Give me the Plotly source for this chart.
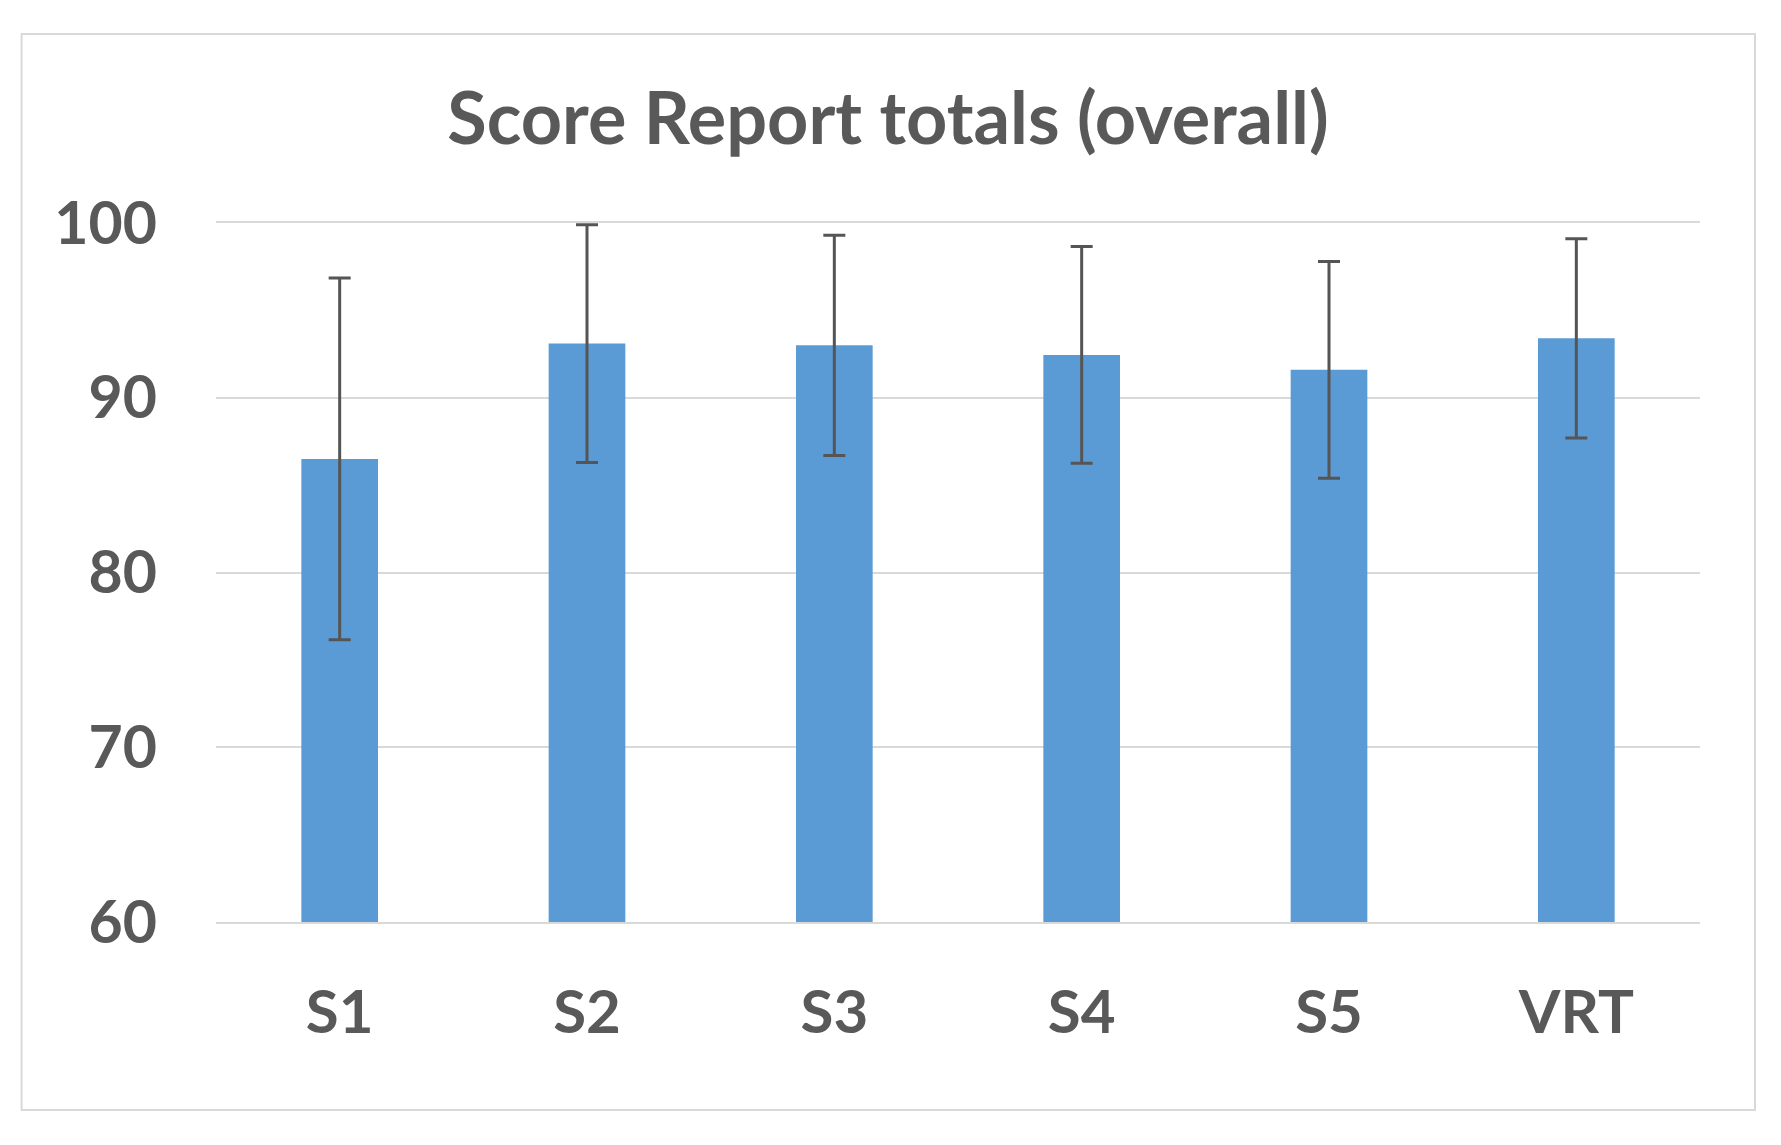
import plotly.graph_objects as go

categories = ["S1", "S2", "S3", "S4", "S5", "VRT"]
means = [86.5, 93.1, 93.0, 92.45, 91.6, 93.4]
errors = [10.35, 6.8, 6.3, 6.2, 6.2, 5.7]
y_ticks = [60, 70, 80, 90, 100]

W, H = 1781, 1145
OFF = 8  # default page body margin
# desired on-screen plot area
PX0, PX1, PY0, PY1 = 216, 1700, 223, 922
L = PX0 - OFF
T = PY0 - OFF
R = W + OFF - PX1
B = H + OFF - PY1
pw = PX1 - PX0
ph = PY1 - PY0

def px_x(p):
    return (p - PX0) / pw

def px_y(p):
    return 1 - (p - PY0) / ph

TEXT = "#595959"
FONT = "Lato"
GRID = "#d9d9d9"

fig = go.Figure()
fig.add_trace(go.Bar(
    x=categories, y=means,
    marker=dict(color="#5b9bd5", line=dict(width=0)),
    width=0.31,
    error_y=dict(type="data", array=errors, visible=True,
                 color="#555555", thickness=3, width=11),
))

fig.update_layout(
    width=W, height=H,
    margin=dict(l=L, r=R, t=T, b=B),
    paper_bgcolor="white", plot_bgcolor="white",
    showlegend=False,
    title=dict(text="<b>Score Report totals (overall)</b>",
               xref="paper", x=px_x(888), xanchor="center",
               yref="container", y=1 - (119 - OFF) / H, yanchor="middle",
               font=dict(family=FONT, size=72, color=TEXT)),
    xaxis=dict(showgrid=False, zeroline=False, showline=True, mirror=True,
               linecolor=GRID, linewidth=2, ticks="",
               ticklabelstandoff=37,
               tickfont=dict(family=FONT, size=60, color=TEXT, weight="bold")),
    yaxis=dict(range=[60, 100], tickvals=y_ticks, showgrid=True,
               gridcolor=GRID, gridwidth=2, zeroline=False,
               showline=False, ticks="", ticklabelstandoff=58,
               tickfont=dict(family=FONT, size=59, color=TEXT, weight="bold")),
    shapes=[dict(type="rect", xref="paper", yref="paper",
                 x0=px_x(21.6), x1=px_x(1755), y0=px_y(1110), y1=px_y(34),
                 line=dict(color=GRID, width=2), layer="below")],
)
fig.write_html("out.html")
